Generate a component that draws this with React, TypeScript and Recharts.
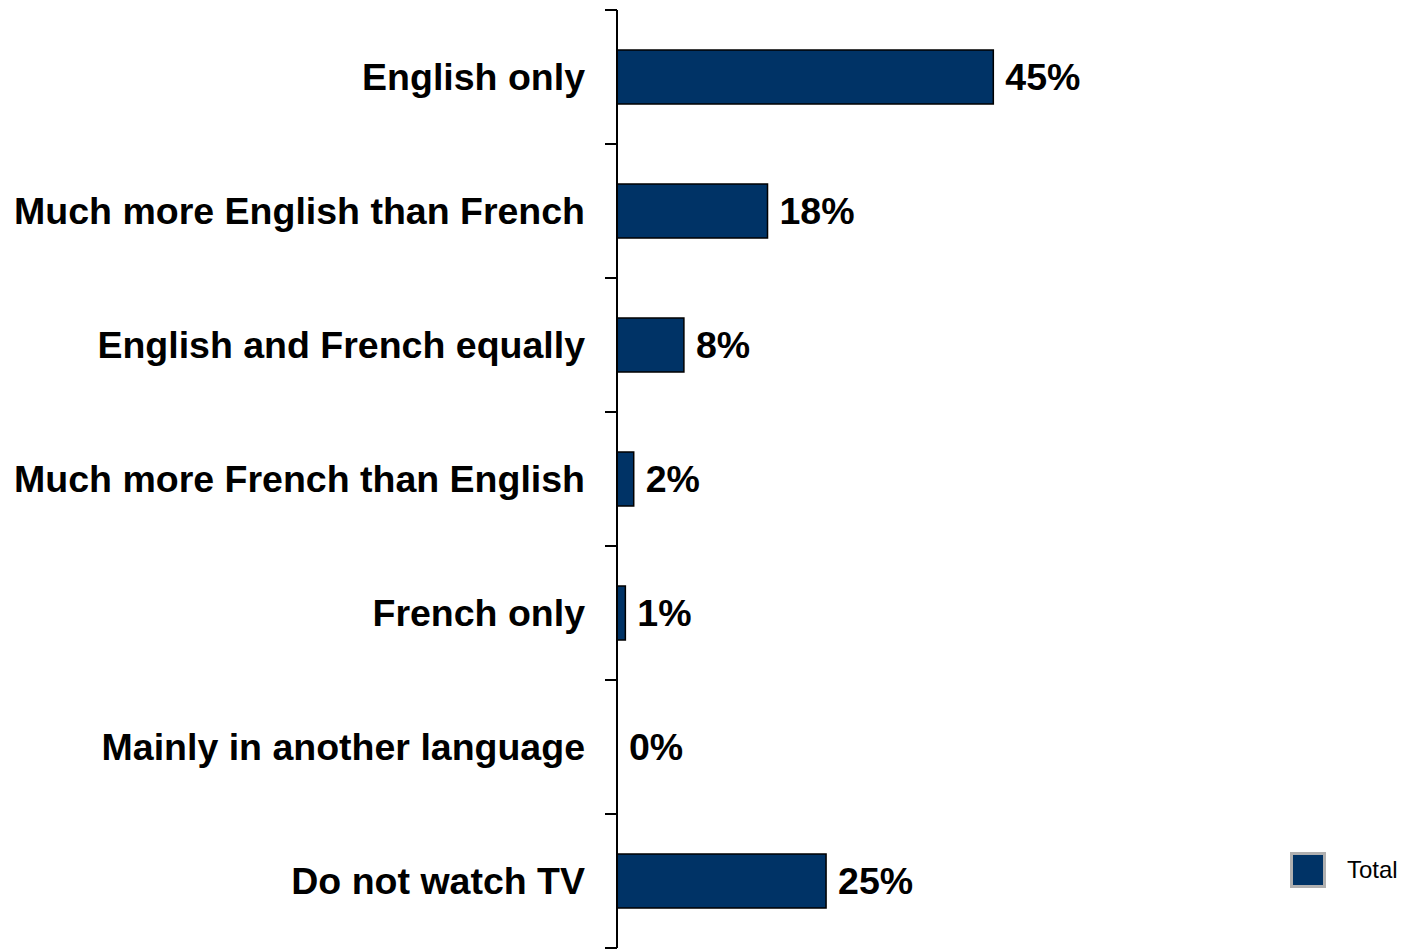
import { BarChart, Bar, XAxis, YAxis, LabelList } from 'recharts';

const categories = [
  'English only',
  'Much more English than French',
  'English and French equally',
  'Much more French than English',
  'French only',
  'Mainly in another language',
  'Do not watch TV',
];

const totals = [45, 18, 8, 2, 1, 0, 25];

const data = categories.map((name, i) => ({ name, total: totals[i] }));

const FONT = '"Liberation Sans", Arial, sans-serif';
const NAVY = '#003366';
const TICK_SIZE = 12;
const TICK_MARGIN = 20;

// category label on one line, plus the tick marks that sit between categories
function CategoryTick(props: any) {
  const { x, y, payload } = props;
  const half = payload.offset ?? 67;
  const axisX = x + TICK_MARGIN + TICK_SIZE;
  const isLast = payload.index === categories.length - 1;
  return (
    <g>
      <line x1={axisX - TICK_SIZE} x2={axisX} y1={y - half} y2={y - half} stroke="#000" strokeWidth={2} />
      {isLast && (
        <line x1={axisX - TICK_SIZE} x2={axisX} y1={y + half} y2={y + half} stroke="#000" strokeWidth={2} />
      )}
      <text
        x={x}
        y={y}
        dy="0.355em"
        textAnchor="end"
        fill="#000"
        fontSize={37.5}
        fontWeight="bold"
        fontFamily={FONT}
      >
        {payload.value}
      </text>
    </g>
  );
}

function TotalLegend() {
  return (
    <div
      style={{
        position: 'absolute',
        left: 1282,
        top: 844,
        display: 'flex',
        alignItems: 'center',
        fontFamily: FONT,
      }}
    >
      <div
        style={{
          width: 30,
          height: 30,
          background: NAVY,
          border: '3px solid #b0b0b0',
        }}
      />
      <span style={{ marginLeft: 21, fontSize: 24, color: '#000' }}>Total</span>
    </div>
  );
}

export default function App() {
  return (
    <div style={{ position: 'relative', width: 1397, height: 943 }}>
      <BarChart
        width={1397}
        height={943}
        data={data}
        layout="vertical"
        margin={{ top: 2, right: 119, bottom: 3, left: 0 }}
      >
        <XAxis type="number" domain={[0, 80]} hide />
        <YAxis
          type="category"
          dataKey="name"
          width={609}
          axisLine={{ stroke: '#000', strokeWidth: 2 }}
          tickLine={false}
          tickSize={TICK_SIZE}
          tickMargin={TICK_MARGIN}
          tick={<CategoryTick />}
          interval={0}
        />
        <Bar
          dataKey="total"
          name="Total"
          fill={NAVY}
          stroke="#000"
          strokeWidth={1.5}
          barSize={54}
          minPointSize={0.01}
          isAnimationActive={false}
        >
          <LabelList
            dataKey="total"
            position="right"
            offset={12}
            formatter={(v: number) => `${v}%`}
            style={{ fill: '#000', fontSize: 37.5, fontWeight: 'bold', fontFamily: FONT }}
          />
        </Bar>
      </BarChart>
      <TotalLegend />
    </div>
  );
}
